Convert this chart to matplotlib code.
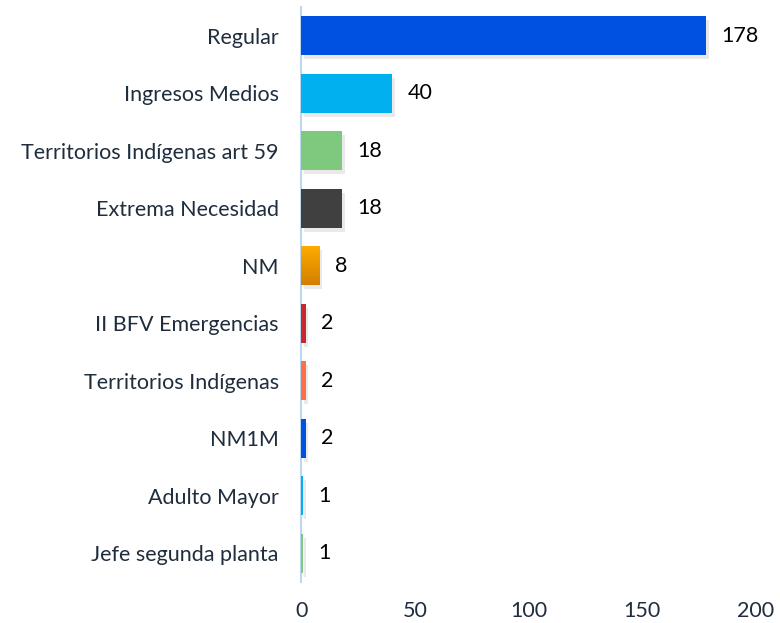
import matplotlib.pyplot as plt
import matplotlib.patheffects as pe
from matplotlib.colors import LinearSegmentedColormap
import numpy as np

plt.rcParams['font.family'] = ['Lato', 'DejaVu Sans']

categories = ["Regular", "Ingresos Medios", "Territorios Indígenas art 59",
              "Extrema Necesidad", "NM", "II BFV Emergencias",
              "Territorios Indígenas", "NM1M", "Adulto Mayor",
              "Jefe segunda planta"]
values = [178, 40, 18, 18, 8, 2, 2, 2, 1, 1]
colors = ["#0050E1", "#00B0EF", "#7FC97F", "#404040", "#F5A000",
          "#C8282D", "#FF7045", "#0050E1", "#00B0EF", "#7FC97F"]
xticks = [0, 50, 100, 150, 200]

fig = plt.figure(figsize=(7.8, 6.23), dpi=100)
ax = fig.add_axes([0.386, 0.066, 0.583, 0.923])

y = np.arange(len(categories))
shadow = [pe.SimplePatchShadow(offset=(2, -3), shadow_rgbFace='#aaaaaa', alpha=0.25), pe.Normal()]
bars = ax.barh(y, values, height=0.68, color=colors, path_effects=shadow, zorder=3)

# gradient on the NM bar
nm = bars[4]
nm.set_facecolor('none')
bx, by = nm.get_x(), nm.get_y()
bw, bh = nm.get_width(), nm.get_height()
grad = np.linspace(0, 1, 50).reshape(-1, 1)
cmap = LinearSegmentedColormap.from_list('nm', ['#FFAC00', '#D27F00'])
im = ax.imshow(grad, cmap=cmap, aspect='auto', extent=[bx, bx + bw, by + bh, by],
               zorder=4, origin='upper')
im.set_clip_path(nm)

for yi, v in zip(y, values):
    ax.annotate(str(v), (v, yi), xytext=(11, 0), textcoords='offset points',
                va='center', ha='left', fontsize=15.5, color='black')

ax.set_yticks(y)
ax.set_yticklabels(categories, fontsize=15.5, color='#1F2D3D')
ax.set_xticks(xticks)
ax.set_xticklabels([str(t) for t in xticks], fontsize=15.5, color='#1F2D3D')
ax.set_xlim(0, 200)
ax.set_ylim(len(categories) - 0.5, -0.5)
ax.tick_params(axis='both', length=0)
ax.tick_params(axis='y', pad=16)
ax.tick_params(axis='x', pad=14)
for s in ['top', 'right', 'bottom']:
    ax.spines[s].set_visible(False)
ax.spines['left'].set_color('#BDD7EE')
ax.spines['left'].set_linewidth(1.5)

fig.savefig('out.png', dpi=100)
